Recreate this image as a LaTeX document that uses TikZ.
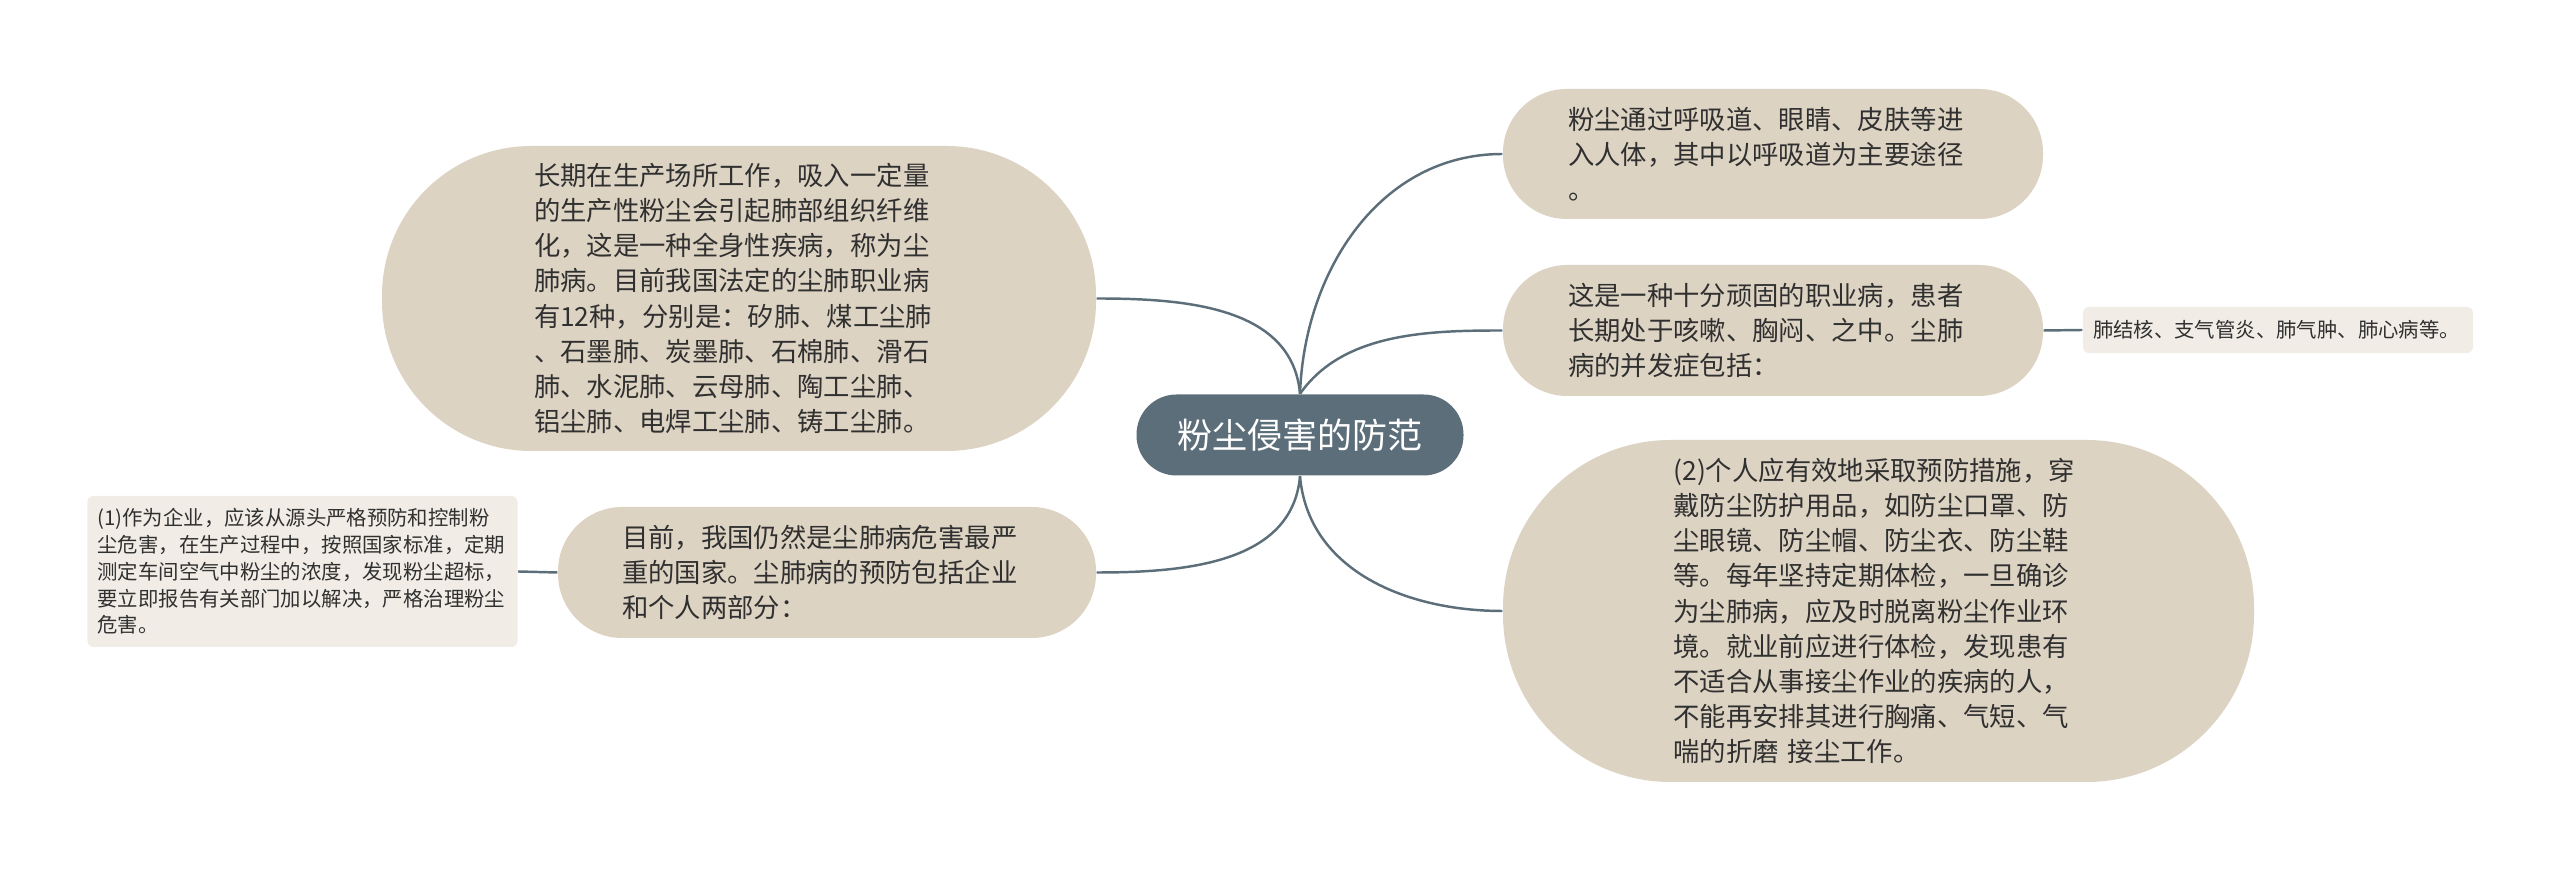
\documentclass[tikz,border=0pt]{standalone}
\usepackage{fontspec}
\setmainfont{Noto Sans CJK SC}

\definecolor{rootslate}{HTML}{5C6E7A}
\definecolor{topicsand}{HTML}{DDD3C3}
\definecolor{leafsand}{HTML}{F1EDE6}
\definecolor{inkgray}{HTML}{303030}

\begin{document}
\begin{tikzpicture}[
		topic/.style 2 args={rectangle, fill=topicsand, text=inkgray,
					  minimum width=#1, minimum height=#2, rounded corners=0.49*#2,
					  inner xsep=0pt, inner ysep=0pt, text width=4.1cm, align=left,
					  font=\fontsize{7.5pt}{10pt}\selectfont},
		leaf/.style={rectangle, rounded corners=0.06cm, fill=leafsand, text=inkgray,
					 inner xsep=0.1cm, inner ysep=0pt, align=left,
					 font=\fontsize{5.8pt}{7.6pt}\selectfont},
		link/.style={draw=rootslate, line width=0.7pt}]
		\useasboundingbox (0,0) rectangle (25.6,-8.7);

		\node[rectangle, rounded corners=0.4cm, fill=rootslate, text=white,
			  minimum width=3.27cm, minimum height=0.81cm, inner sep=0pt,
			  font=\fontsize{9.96pt}{12pt}\selectfont] (root) at (13.0,-4.35) {粉尘侵害的防范};

		\node[topic={7.14cm}{3.05cm}] (lung) at (7.39,-2.985) {长期在生产场所工作，吸入一定量\\的生产性粉尘会引起肺部组织纤维\\化，这是一种全身性疾病，称为尘\\肺病。目前我国法定的尘肺职业病\\有12种，分别是：矽肺、煤工尘肺\\、石墨肺、炭墨肺、石棉肺、滑石\\肺、水泥肺、云母肺、陶工尘肺、\\铝尘肺、电焊工尘肺、铸工尘肺。};
		\node[topic={5.38cm}{1.31cm}] (prevent) at (8.27,-5.725) {目前，我国仍然是尘肺病危害最严\\重的国家。尘肺病的预防包括企业\\和个人两部分：};
		\node[topic={5.40cm}{1.30cm}] (entry) at (17.73,-1.54) {粉尘通过呼吸道、眼睛、皮肤等进\\入人体，其中以呼吸道为主要途径\\。};
		\node[topic={5.40cm}{1.31cm}] (chronic) at (17.73,-3.305) {这是一种十分顽固的职业病，患者\\长期处于咳嗽、胸闷、之中。尘肺\\病的并发症包括：};
		\node[topic={7.51cm}{3.42cm}] (person) at (18.785,-6.11) {(2)个人应有效地采取预防措施，穿\\戴防尘防护用品，如防尘口罩、防\\尘眼镜、防尘帽、防尘衣、防尘鞋\\等。每年坚持定期体检，一旦确诊\\为尘肺病，应及时脱离粉尘作业环\\境。就业前应进行体检，发现患有\\不适合从事接尘作业的疾病的人，\\不能再安排其进行胸痛、气短、气\\喘的折磨 接尘工作。};

		\node[leaf, minimum height=0.46cm, text width=3.7cm] (illness) at (22.78,-3.30) {肺结核、支气管炎、肺气肿、肺心病等。};
		\node[leaf, minimum height=1.51cm, text width=4.1cm] (company) at (3.025,-5.715) {(1)作为企业，应该从源头严格预防和控制粉\\尘危害，在生产过程中，按照国家标准，定期\\测定车间空气中粉尘的浓度，发现粉尘超标，\\要立即报告有关部门加以解决，严格治理粉尘\\危害。};

		\draw[link] (root.north) to[out=95,in=0] (lung.east);
		\draw[link] (root.south) to[out=-95,in=0] (prevent.east);
		\draw[link] (root.north) to[out=88,in=180] (entry.west);
		\draw[link] (root.north) to[out=55,in=180,looseness=0.9] (chronic.west);
		\draw[link] (root.south) to[out=-85,in=180] (person.west);
		\draw[link] (chronic.east) -- (illness.west);
		\draw[link] (company.east) -- (prevent.west);
	\end{tikzpicture}
\end{document}
